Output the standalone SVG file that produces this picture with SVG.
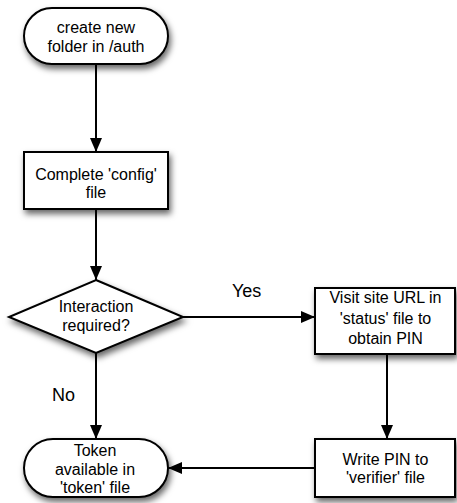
<svg xmlns="http://www.w3.org/2000/svg" width="457" height="503" viewBox="0 0 457 503">
  <defs>
    <filter id="shadow" x="-20%" y="-20%" width="140%" height="150%">
      <feDropShadow dx="2" dy="4" stdDeviation="3" flood-color="#000" flood-opacity="0.6"/>
    </filter>
    <marker id="arrow" markerUnits="userSpaceOnUse" markerWidth="14" markerHeight="12" refX="14" refY="6" orient="auto">
      <path d="M0,0 L14,6 L0,12 z" fill="#000"/>
    </marker>
    <style>
      .shape { fill: #fff; stroke: #000; stroke-width: 2; filter: url(#shadow); }
      .conn { stroke: #000; stroke-width: 2; fill: none; marker-end: url(#arrow); }
      text { font-family: "Liberation Sans", Arial, Helvetica, sans-serif; fill: #000; }
      .t { font-size: 16px; text-anchor: middle; }
      .lbl { font-size: 18px; }
    </style>
  </defs>

  <g id="connectors">
    <line class="conn" x1="96" y1="64" x2="96" y2="152"/>
    <line class="conn" x1="96" y1="209" x2="96" y2="280"/>
    <line class="conn" x1="183" y1="317" x2="315" y2="317"/>
    <line class="conn" x1="96" y1="353" x2="96" y2="439"/>
    <line class="conn" x1="387" y1="354" x2="387" y2="439"/>
    <line class="conn" x1="315" y1="468" x2="168" y2="468"/>
    <text class="lbl" x="232" y="297">Yes</text>
    <text class="lbl" x="52" y="401">No</text>
  </g>

  <g id="create-folder">
    <rect class="shape" x="24" y="8" width="144" height="56" rx="28" ry="28"/>
    <text class="t" x="96" y="33">create new</text>
    <text class="t" x="96" y="52">folder in /auth</text>
  </g>

  <g id="complete-config">
    <rect class="shape" x="24" y="152" width="144" height="57"/>
    <text class="t" x="96" y="180">Complete 'config'</text>
    <text class="t" x="96" y="198">file</text>
  </g>

  <g id="interaction">
    <polygon class="shape" points="96,280 183,317 96,353 9,317"/>
    <text class="t" x="96" y="312">Interaction</text>
    <text class="t" x="96" y="331">required?</text>
  </g>

  <g id="visit-site">
    <rect class="shape" x="315" y="288" width="140" height="66"/>
    <text class="t" x="385.5" y="303">Visit site URL in</text>
    <text class="t" x="385.5" y="324">'status' file to</text>
    <text class="t" x="385.5" y="344">obtain PIN</text>
  </g>

  <g id="write-pin">
    <rect class="shape" x="315" y="439" width="140" height="58"/>
    <text class="t" x="385.5" y="465">Write PIN to</text>
    <text class="t" x="385.5" y="483">'verifier' file</text>
  </g>

  <g id="token">
    <rect class="shape" x="24" y="439" width="144" height="58" rx="29" ry="29"/>
    <text class="t" x="95" y="456">Token</text>
    <text class="t" x="95" y="475">available in</text>
    <text class="t" x="95" y="493">'token' file</text>
  </g>
</svg>
